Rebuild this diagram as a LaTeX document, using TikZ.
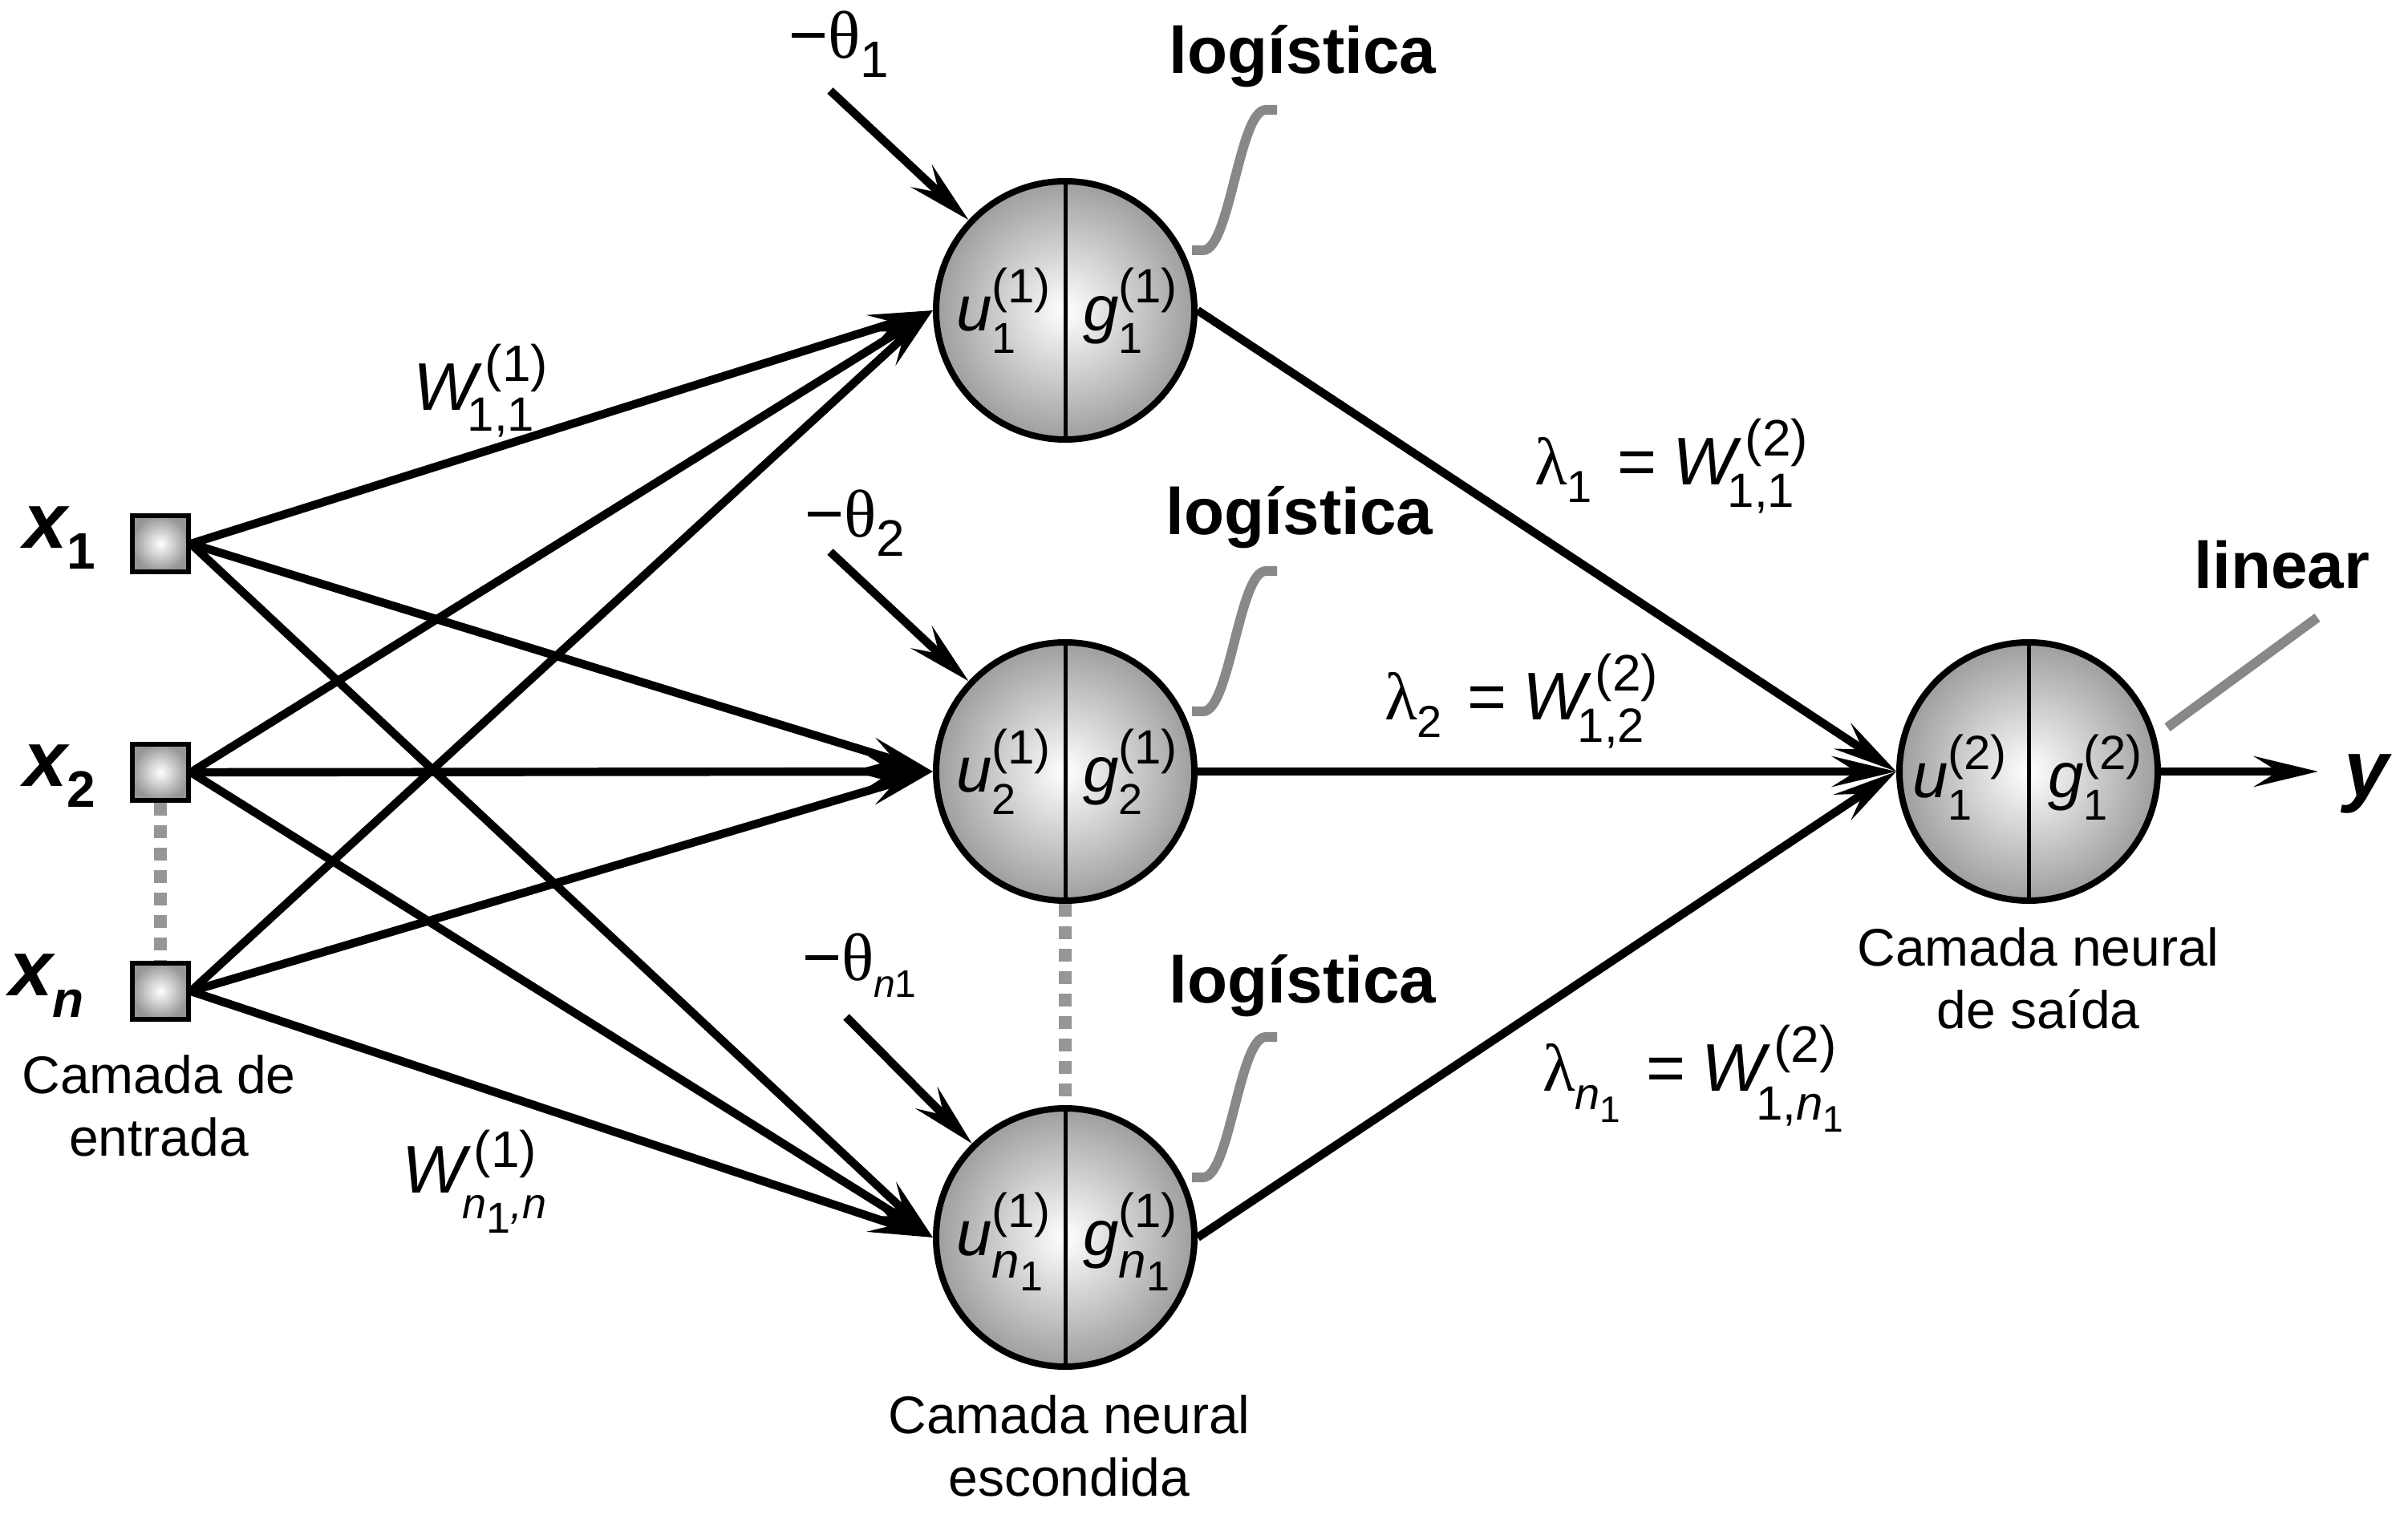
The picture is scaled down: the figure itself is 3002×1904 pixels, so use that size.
\documentclass[tikz,border=0pt]{standalone}
\usepackage{fontspec}
\setmainfont{Liberation Sans}
\newfontfamily\gk{Liberation Serif}
\usetikzlibrary{arrows.meta,calc}
\definecolor{ngray}{RGB}{158,158,158}
\definecolor{bgray}{RGB}{150,150,150}
\definecolor{dgray}{RGB}{150,150,150}
\definecolor{cgray}{RGB}{136,136,136}
\newcommand\fs[1]{\fontsize{#1}{#1}\selectfont}
\newcommand\SupSub[4]{\setbox0\hbox{#1}\setbox2\hbox{#2}%
  \ifdim\wd0>\wd2\relax\dimen0=\wd0\else\dimen0=\wd2\fi
  \rlap{\raise#3\box0}\rlap{\lower#4\box2}\kern\dimen0\relax}
\newcommand\nlab[3]{\hbox{\fs{20}\itshape #1}\SupSub{\fs{15}(#2)}{#3}{8.75pt}{7pt}}
\newcommand\subd[1]{\fs{13.5}#1}
\newcommand\subn{\fs{15.5}\itshape n\/\lower4pt\hbox{\fs{13}\upshape 1}}
\newcommand\WW{\hbox{\fs{21}\itshape W\/}}
\begin{document}
\begin{tikzpicture}[x=0.25pt,y=-0.25pt,
  conn/.style={line width=2.6pt,-{Stealth[length=20pt,width=9.5pt,inset=7.5pt]}},
  neuron/.style={circle,draw,line width=2pt,minimum size=80.5pt,inner sep=0pt,shade,shading=radial,inner color=white,outer color=ngray},
  inbox/.style={rectangle,draw,line width=1.5pt,minimum size=17.5pt,inner sep=0pt,shade,shading=radial,inner color=white,outer color=bgray},
  divider/.style={line width=1.25pt},
  dots/.style={draw=dgray,line width=4pt,dash pattern=on 4pt off 3pt},
  callout/.style={draw=cgray,line width=3pt},
  lab/.style={inner sep=0pt,outer sep=0pt}]
\fill[white] (0,0) rectangle (3002,1904);
\useasboundingbox (0,0) rectangle (3002,1904);

% input layer
\node[inbox] (x1) at (200,678) {};
\node[inbox] (x2) at (200,963) {};
\node[inbox] (xn) at (200,1236) {};
% hidden and output neurons
\node[neuron] (h1) at (1328,387) {};
\node[neuron] (h2) at (1328,962) {};
\node[neuron] (h3) at (1328,1543) {};
\node[neuron] (o) at (2529,962) {};
\foreach \n in {h1,h2,h3,o} \draw[divider] (\n.north) -- (\n.south);

% neuron labels
\node[lab,anchor=base] (u1) at ($(h1)+(-77,26)$) {\nlab{u}{1}{\subd1}};
\node[lab,anchor=base] (g1) at ($(h1)+(81,26)$) {\nlab{g}{1}{\subd1}};
\node[lab,anchor=base] (u2) at ($(h2)+(-77,26)$) {\nlab{u}{1}{\subd2}};
\node[lab,anchor=base] (g2) at ($(h2)+(81,26)$) {\nlab{g}{1}{\subd2}};
\node[lab,anchor=base] (u3) at ($(h3)+(-77,22)$) {\nlab{u}{1}{\subn}};
\node[lab,anchor=base] (g3) at ($(h3)+(81,22)$) {\nlab{g}{1}{\subn}};
\node[lab,anchor=base] (uo) at ($(o)+(-86,32)$) {\nlab{u}{2}{\subd1}};
\node[lab,anchor=base] (go) at ($(o)+(83,32)$) {\nlab{g}{2}{\subd1}};

% connectors
\foreach \s in {x1,x2,xn} \foreach \t in {h1,h2,h3} \draw[conn] (\s.east) -- (\t.west);
\foreach \s in {h1,h2,h3} \draw[conn] (\s.east) -- (o.west);
\coordinate (yend) at (2890,962);
\draw[conn] (o.east) -- (yend);

% bias arrows
\coordinate (b1) at (1035,113);
\coordinate (b2) at (1035,688);
\coordinate (b3) at (1055,1268);
\draw[conn] (b1) -- (h1);
\draw[conn] (b2) -- (h2);
\draw[conn] (b3) -- (h3);

% dotted ellipsis lines
\draw[dots] (x2.south) -- (xn.north);
\draw[dots] (h2.south) -- (h3.north);

% callouts
\foreach \n in {h1,h2,h3} {
  \draw[callout] ($(\n)+(158,-75)$) -- ($(\n)+(172,-75)$)
    .. controls ($(\n)+(205,-75)$) and ($(\n)+(217,-250)$) .. ($(\n)+(250,-250)$)
    -- ($(\n)+(264,-250)$);
}
\coordinate (lin0) at (2702,907);
\coordinate (lin1) at (2889,770);
\draw[callout] (lin0) -- (lin1);

% function labels
\node[lab,anchor=base] (lg1) at (1624,92) {\fs{20.5}\bfseries logística};
\node[lab,anchor=base] (lg2) at (1620,667) {\fs{20.5}\bfseries logística};
\node[lab,anchor=base] (lg3) at (1624,1250) {\fs{20.5}\bfseries logística};
\node[lab,anchor=base] (lin) at (2845,734) {\fs{20.5}\bfseries linear};

% input labels
\node[lab,anchor=base west] (lx1) at (29,684) {\fs{24.5}\bfseries\itshape x\lower6.5pt\hbox{\fs{16}\upshape 1}};
\node[lab,anchor=base west] (lx2) at (29,980) {\fs{24.5}\bfseries\itshape x\lower6.5pt\hbox{\fs{16}\upshape 2}};
\node[lab,anchor=base west] (lxn) at (11,1241) {\fs{24.5}\bfseries\itshape x\lower6.75pt\hbox{\fs{16}n}};
\node[lab,anchor=base west] (ly) at (2922,993) {\fs{25}\bfseries\itshape y};

% bias labels
\node[lab,anchor=base west] (t1) at (983,73) {\hbox{\fs{21}−}\hbox{\fs{21}\gk θ}\lower6pt\hbox{\fs{16}1}};
\node[lab,anchor=base west] (t2) at (1003,670) {\hbox{\fs{21}−}\hbox{\fs{21}\gk θ}\lower6pt\hbox{\fs{16}2}};
\node[lab,anchor=base west] (t3) at (1000,1222) {\hbox{\fs{21}−}\hbox{\fs{21}\gk θ}\lower5.25pt\hbox{\fs{12}\itshape n\/\upshape 1}};

% first-layer weights
\node[lab,anchor=base west] (w11) at (515,512) {\WW\SupSub{\kern1pt\fs{16}(1)}{\kern-4.5pt\fs{15}1,1}{9pt}{6.5pt}};
\node[lab,anchor=base west] (wnn) at (501,1487) {\WW\SupSub{\kern1pt\fs{16}(1)}{\kern-2.5pt\fs{13.5}\itshape n\/\lower4.5pt\hbox{\upshape 1},n}{8pt}{8pt}};

% second-layer weights
\node[lab,anchor=base west] (l1) at (1913,605) {\hbox{\fs{21}\gk λ}\lower5.5pt\hbox{\fs{14}1}\kern8pt\hbox{\fs{21}=}\kern5pt\WW\SupSub{\kern1pt\fs{16}(2)}{\kern-4.5pt\fs{15}1,1}{9pt}{7pt}};
\node[lab,anchor=base west] (l2) at (1726,898) {\hbox{\fs{21}\gk λ}\lower5.5pt\hbox{\fs{14}2}\kern8pt\hbox{\fs{21}=}\kern5pt\WW\SupSub{\kern1pt\fs{16}(2)}{\kern-4.5pt\fs{15}1,2}{9pt}{7pt}};
\node[lab,anchor=base west] (l3) at (1923,1360) {\hbox{\fs{21}\gk λ}\lower5.75pt\hbox{\fs{14}\itshape n\/\lower4pt\hbox{\fs{11.5}\upshape 1}}\kern8pt\hbox{\fs{21}=}\kern5pt\WW\SupSub{\kern1pt\fs{16}(2)}{\kern-4.5pt\fs{15}1,\itshape n\/\lower4pt\hbox{\fs{11.5}\upshape 1}}{9pt}{9pt}};

% captions
\node[lab,anchor=base] (c1) at (198,1363) {\fontsize{16.5}{19.5}\selectfont\begin{tabular}[t]{@{}c@{}}Camada de\\entrada\end{tabular}};
\node[lab,anchor=base] (c2) at (1333,1787) {\fontsize{16.5}{19.5}\selectfont\begin{tabular}[t]{@{}c@{}}Camada neural\\escondida\end{tabular}};
\node[lab,anchor=base] (c3) at (2541,1205) {\fontsize{16.5}{19.5}\selectfont\begin{tabular}[t]{@{}c@{}}Camada neural\\de saída\end{tabular}};
\end{tikzpicture}
\end{document}
